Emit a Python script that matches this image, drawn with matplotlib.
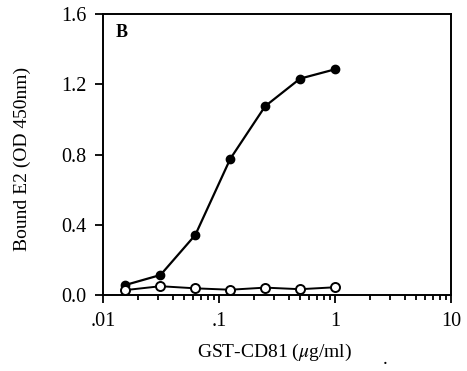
import matplotlib
matplotlib.use("Agg")
import matplotlib.pyplot as plt
from matplotlib.ticker import FixedLocator, LogLocator, NullFormatter

plt.rcParams['font.family'] = ['Liberation Serif', 'DejaVu Serif']
plt.rcParams['mathtext.fontset'] = 'stix'

# GST-CD81 concentration (ug/ml)
conc = [0.0156, 0.0313, 0.0625, 0.125, 0.25, 0.5, 1.0]
# Bound E2, OD 450 nm
bound_cd81 = [0.057, 0.114, 0.342, 0.775, 1.075, 1.232, 1.285]
bound_control = [0.028, 0.050, 0.038, 0.030, 0.042, 0.033, 0.044]

xticks = [0.01, 0.1, 1, 10]
xticklabels = ['.01', '.1', '1', '10']
yticks = [0.0, 0.4, 0.8, 1.2, 1.6]
yticklabels = ['0.0', '0.4', '0.8', '1.2', '1.6']

fig = plt.figure(figsize=(4.67, 3.71), dpi=100)
ax = fig.add_axes([103 / 467, 1 - 295 / 371, 348 / 467, 281 / 371])

ax.plot(conc, bound_cd81, '-o', color='black', lw=1.6, ms=6,
        mfc='black', mec='black', zorder=3)
ax.plot(conc, bound_control, '-o', color='black', lw=1.4, ms=6.5,
        mfc='white', mec='black', mew=1.4, zorder=3)

ax.set_xscale('log')
ax.set_xlim(0.01, 10)
ax.set_ylim(0, 1.6)
ax.xaxis.set_major_locator(FixedLocator(xticks))
ax.set_xticklabels(xticklabels)
ax.xaxis.set_minor_locator(LogLocator(base=10, subs=range(2, 10)))
ax.xaxis.set_minor_formatter(NullFormatter())
ax.set_yticks(yticks)
ax.set_yticklabels(yticklabels)

ax.tick_params(axis='both', which='major', direction='out', length=6,
               width=1.3, labelsize=14.5, pad=6)
ax.tick_params(axis='x', which='minor', direction='out', length=3.5,
               width=1.3)
ax.tick_params(top=False, right=False)
for s in ax.spines.values():
    s.set_linewidth(1.4)

fig.text(22 / 467, 1 - 159 / 371, 'Bound E2 (OD 450nm)', fontsize=14,
         rotation=90, ha='center', va='center')
fig.text(275 / 467, 1 - 352 / 371, r'GST-CD81 ($\mu$g/ml)', fontsize=14,
         ha='center', va='center')
fig.text(385 / 467, 1 - 360 / 371, '.', fontsize=14, ha='center', va='center')
ax.text(0.035, 0.965, 'B', transform=ax.transAxes, fontsize=13,
        fontweight='bold', ha='left', va='top')

fig.savefig('out.png', dpi=100)
